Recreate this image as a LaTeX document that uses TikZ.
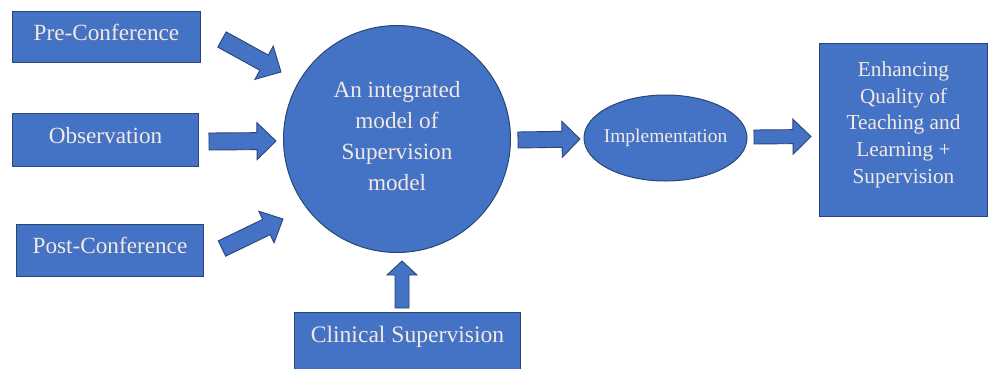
\documentclass[tikz,border=0pt]{standalone}
\usepackage{fontspec}
\setmainfont{Liberation Serif}
\usetikzlibrary{calc,shapes.geometric}
\definecolor{boxblue}{HTML}{4472C4}
\definecolor{edgeblue}{HTML}{2A4678}
\definecolor{txtcol}{HTML}{F2E9E2}
\tikzset{
  shapebase/.style={draw=edgeblue, fill=boxblue, line width=1pt, inner sep=0pt, text=txtcol},
  rectbox/.style={shapebase, anchor=north west, font=\fontsize{23.2}{28}\selectfont},
  leftbox/.style={rectbox, text height=16pt, text depth=10pt},
  barrow/.style={draw=edgeblue, fill=boxblue, line width=0.9pt, line join=miter},
}
\newcommand\blockarrow[5]{%
  \coordinate (banext) at ($(#2)!#5!(#1)$);
  \draw[barrow] ($(#1)!#3!90:(#2)$) -- ($(banext)!#3!90:(#2)$) -- ($(banext)!#4!90:(#2)$)
    -- (#2) -- ($(banext)!#4!-90:(#2)$) -- ($(banext)!#3!-90:(#2)$) -- ($(#1)!#3!-90:(#2)$) -- cycle;}
\begin{document}
\begin{tikzpicture}[x=1pt, y=-1pt]
\useasboundingbox (0,0) rectangle (989,368);
\clip (0,0) rectangle (989,368);
\fill[white] (0,0) rectangle (989,368);
% left boxes
\node[leftbox, minimum width=188pt, minimum height=51pt] (pre) at (12,11) {Pre-Conference};
\node[leftbox, minimum width=186pt, minimum height=53pt] (obs) at (12,113) {Observation};
\node[leftbox, minimum width=187pt, minimum height=52pt] (post) at (16,224) {Post-Conference};
% centre circle
\node[shapebase, circle, minimum size=227pt, align=center, font=\fontsize{23.2}{31}\selectfont] (circ) at (397,139)
  {An integrated\\model of\\Supervision\\model\rule[-6pt]{0pt}{6pt}};
% implementation
\node[shapebase, ellipse, minimum width=163pt, minimum height=86pt, inner xsep=-20pt, font=\fontsize{19.5}{22}\selectfont] (impl) at (665.5,138) {Implementation};
% result box
\node[rectbox, minimum width=168pt, minimum height=173pt, align=center, font=\fontsize{21.3}{26.7}\selectfont] (enh) at (819,43)
  {Enhancing\\Quality of\\Teaching and\\Learning +\\Supervision\rule[-15pt]{0pt}{15pt}};
% clinical box
\node[rectbox, minimum width=226pt, text height=30pt, text depth=30pt, font=\fontsize{23.6}{28}\selectfont] (clin) at (294,312) {Clinical Supervision};
% block arrows
\coordinate (preT) at (222,39.5);   \coordinate (preH) at (281,72);
\coordinate (obsT) at (209,141.5);  \coordinate (obsH) at (276,141);
\coordinate (postT) at (222,248.5); \coordinate (postH) at (283,219);
\coordinate (cirT) at (518,140);    \coordinate (cirH) at (580,139);
\coordinate (impT) at (754,137);    \coordinate (impH) at (811,136.5);
\coordinate (cliT) at (402,308);    \coordinate (cliH) at (402,261);
\blockarrow{preT}{preH}{8.7pt}{19pt}{19.3pt}
\blockarrow{obsT}{obsH}{8.5pt}{18.5pt}{19pt}
\blockarrow{postT}{postH}{8.5pt}{17.5pt}{18.4pt}
\blockarrow{cirT}{cirH}{8pt}{18pt}{18pt}
\blockarrow{impT}{impH}{7pt}{17.5pt}{18pt}
\blockarrow{cliT}{cliH}{7pt}{15pt}{14pt}
\end{tikzpicture}
\end{document}
